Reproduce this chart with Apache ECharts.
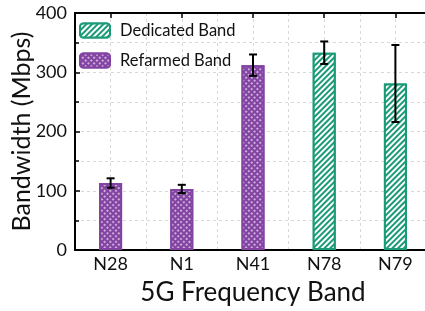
<!DOCTYPE html>
<html>
<head>
<meta charset="utf-8">
<script src="https://cdn.jsdelivr.net/npm/echarts@6/dist/echarts.min.js"></script>
<style>
  html, body { margin: 0; padding: 0; background: #fff; }
  #chart { width: 425px; height: 311px; }
</style>
</head>
<body>
<div id="chart"></div>
<script>
const categories = ['N28', 'N1', 'N41', 'N78', 'N79'];
const refarmed = [113, 103, 312, '-', '-'];
const dedicated = ['-', '-', '-', 333, 281];
const errLow = [105, 96, 294, 314, 216];
const errHigh = [121, 110, 330, 352, 346];
const yTicks = [0, 100, 200, 300, 400];

const purple = '#8343a3';
const green = '#1a9a76';
const font = 'Lato';

const chart = echarts.init(document.getElementById('chart'), null, { renderer: 'canvas' });

const errData = categories.map((c, i) => [i, errLow[i], errHigh[i]]);

chart.setOption({
  animation: false,
  textStyle: { fontFamily: font, color: '#111' },
  grid: { left: 75, right: -6, top: 13, bottom: 61, outerBoundsMode: 'none', containLabel: false },
  legend: {
    left: 79, top: 22, padding: 0, orient: 'vertical', itemWidth: 30, itemHeight: 14, itemGap: 13,
    textStyle: { fontFamily: font, fontSize: 16.5, color: '#111', padding: [0, 0, 0, 5] },
    data: ['Dedicated Band', 'Refarmed Band']
  },
  xAxis: [
    {
      type: 'category', data: categories, position: 'bottom',
      axisLine: { lineStyle: { color: '#000', width: 2 } },
      axisTick: { show: false },
      axisLabel: { fontSize: 18, color: '#111', margin: 5 },
      splitLine: { show: false },
      name: '5G Frequency Band', nameLocation: 'middle', nameGap: 30,
      nameTextStyle: { fontSize: 26, color: '#111', fontFamily: font }
    },
    {
      type: 'category', data: categories, position: 'top',
      axisLine: { lineStyle: { color: '#000', width: 2 } },
      axisTick: { show: true, inside: true, alignWithLabel: true, length: 5, lineStyle: { color: '#000', width: 1.5 } },
      axisLabel: { show: false },
      splitLine: { show: false }
    },
    {
      type: 'value', min: -0.5, max: 4.5, interval: 0.5, show: true, position: 'bottom',
      axisLine: { show: false }, axisTick: { show: false }, axisLabel: { show: false },
      splitLine: { show: true, lineStyle: { color: '#d8d8d8', type: [3, 3], width: 1 } }
    }
  ],
  yAxis: {
    type: 'value', min: yTicks[0], max: yTicks[yTicks.length - 1], interval: 100,
    axisLine: { show: true, onZero: false, lineStyle: { color: '#000', width: 2 } },
    axisTick: { show: true, inside: true, length: 5, lineStyle: { color: '#000', width: 1.5 } },
    minorTick: { show: true, splitNumber: 2, length: 4, lineStyle: { color: '#000', width: 1.5 } },
    axisLabel: { fontSize: 18, color: '#111', margin: 8 },
    splitLine: { show: true, lineStyle: { color: '#d8d8d8', type: [3, 3], width: 1 } },
    minorSplitLine: { show: true, lineStyle: { color: '#d8d8d8', type: [3, 3], width: 1 } },
    name: 'Bandwidth (Mbps)', nameLocation: 'middle', nameGap: 41, nameMoveOverlap: false,
    nameTextStyle: { fontSize: 25, color: '#111', fontFamily: font }
  },
  series: [
    {
      name: 'Dedicated Band', type: 'bar', stack: 'band', barWidth: 23, data: dedicated,
      itemStyle: {
        color: '#fff', borderColor: green, borderWidth: 2,
        decal: { symbol: 'rect', symbolSize: 1, color: green, backgroundColor: '#fff', dashArrayX: [1, 0], dashArrayY: [2, 2], rotation: -Math.PI / 4 }
      }
    },
    {
      name: 'Refarmed Band', type: 'bar', stack: 'band', barWidth: 23, data: refarmed,
      itemStyle: {
        color: purple, borderColor: purple, borderWidth: 2,
        decal: { symbol: 'rect', symbolSize: 0.75, color: '#fff', backgroundColor: purple, dashArrayX: [[1.3, 2]], dashArrayY: [1.3, 2], rotation: Math.PI / 4 }
      }
    },
    {
      type: 'custom', xAxisIndex: 0, data: errData, z: 10,
      encode: { x: 0, y: [1, 2] },
      renderItem: function (params, api) {
        const lo = api.coord([api.value(0), api.value(1)]);
        const hi = api.coord([api.value(0), api.value(2)]);
        const cap = 4;
        const style = { stroke: '#000', lineWidth: 2 };
        return {
          type: 'group',
          children: [
            { type: 'line', shape: { x1: lo[0], y1: lo[1], x2: hi[0], y2: hi[1] }, style: style },
            { type: 'line', shape: { x1: lo[0] - cap, y1: lo[1], x2: lo[0] + cap, y2: lo[1] }, style: style },
            { type: 'line', shape: { x1: hi[0] - cap, y1: hi[1], x2: hi[0] + cap, y2: hi[1] }, style: style }
          ]
        };
      }
    }
  ]
});
</script>
</body>
</html>
